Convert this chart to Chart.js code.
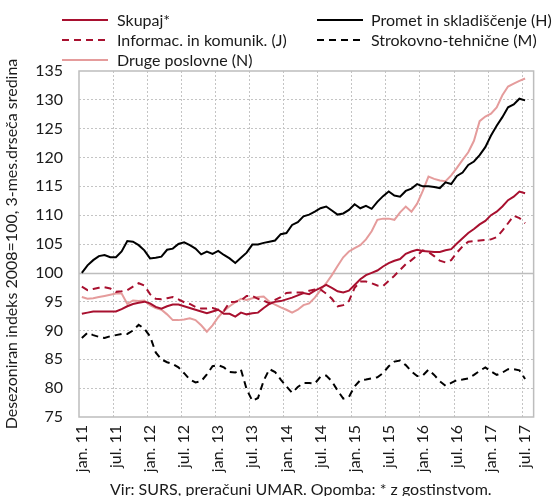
<!DOCTYPE html>
<html><head><meta charset="utf-8">
<script src="https://cdn.jsdelivr.net/npm/chart.js@4"></script>
<style>html,body{margin:0;padding:0;background:#fff}#wrap{position:relative;width:558px;height:496px}</style>
</head><body><div id="wrap"><canvas id="c" width="558" height="496"></canvas></div>
<script>
// ---- data (monthly, jan. 2011 – jul. 2017) ----
const monthNames = ['jan.','feb.','mar.','apr.','maj.','jun.','jul.','avg.','sep.','okt.','nov.','dec.'];
const startYear = 2011;
const monthCount = 80; // axis categories jan. 11 – avg. 17
const seriesNames = ['Skupaj*','Promet in skladiščenje (H)','Informac. in komunik. (J)','Strokovno-tehnične (M)','Druge poslovne (N)'];
const skupaj = [92.9,93.1,93.3,93.3,93.3,93.3,93.3,93.7,94.2,94.6,94.8,95.0,94.7,94.1,93.8,94.2,94.5,94.5,94.2,93.9,93.6,
 93.3,93.0,93.3,93.6,92.9,92.9,92.4,93.1,92.8,93.0,93.1,93.9,94.6,95.0,95.1,95.4,95.7,96.1,96.5,96.3,
 96.9,97.4,97.9,97.4,96.8,96.6,96.9,97.9,98.9,99.6,100.0,100.4,101.1,101.7,102.1,102.4,103.3,103.7,104.0,103.8,
 103.7,103.6,103.6,103.9,104.1,105.1,106.0,106.9,107.6,108.4,109.0,110.0,110.6,111.5,112.6,113.2,114.1,113.8];
const promet = [100.0,101.3,102.2,102.9,103.1,102.7,102.7,103.7,105.5,105.4,104.8,103.9,102.5,102.6,102.8,104.0,104.2,105.0,105.3,104.8,104.2,
 103.2,103.7,103.3,103.8,103.1,102.5,101.7,102.6,103.5,104.9,104.9,105.2,105.4,105.6,106.7,106.9,108.3,108.8,109.8,110.1,
 110.6,111.2,111.5,110.8,110.1,110.3,110.9,111.9,111.2,111.6,111.1,112.3,113.3,114.1,113.4,113.2,114.2,114.6,115.4,115.0,
 115.0,114.9,114.7,115.7,115.4,116.8,117.4,118.7,119.3,120.4,121.8,123.8,125.5,127.0,128.7,129.2,130.2,129.9];
const informac = [97.6,97.0,97.2,97.4,97.5,97.3,96.7,96.8,97.0,97.6,98.2,97.8,96.3,95.5,95.4,95.6,95.8,95.4,94.9,94.6,94.1,
 93.8,93.8,93.9,93.6,93.4,94.9,95.0,95.2,96.0,96.0,95.5,95.2,94.7,95.3,95.8,96.5,96.6,96.6,96.6,96.9,
 97.1,97.1,96.4,95.5,94.2,94.4,95.1,97.4,98.5,98.5,98.2,97.8,97.7,98.6,99.5,100.5,101.5,102.2,103.0,103.9,
 103.6,102.9,102.1,101.8,102.2,103.5,104.6,105.4,105.5,105.6,105.7,105.8,106.2,107.3,108.6,109.9,109.5,108.6];
const strokovno = [88.7,89.6,89.2,88.9,88.7,89.0,89.2,89.4,89.4,90.0,91.0,90.3,89.0,86.2,85.0,84.5,84.2,83.6,82.6,81.5,81.0,
 81.2,82.4,83.8,84.0,83.6,82.8,82.7,83.2,79.8,77.8,78.3,81.3,83.3,82.8,81.5,80.3,79.2,80.2,80.9,80.9,
 80.8,82.0,82.2,81.2,79.6,78.2,78.5,80.3,81.4,81.5,81.7,81.9,82.6,83.8,84.6,84.8,84.0,82.9,82.1,82.2,
 83.2,82.3,81.2,80.4,80.9,81.4,81.5,81.7,82.3,83.0,83.6,82.9,82.3,82.7,83.3,83.3,83.1,81.6];
const druge = [95.8,95.5,95.6,95.8,96.0,96.2,96.4,96.4,94.6,95.2,95.1,95.2,94.4,93.9,93.6,92.8,91.8,91.8,91.9,92.1,91.8,
 90.9,89.8,90.9,92.3,93.4,94.2,94.9,95.5,95.3,95.6,95.8,95.9,95.0,94.5,94.0,93.6,93.1,93.6,94.4,94.7,
 95.7,97.0,98.2,99.6,101.2,102.7,103.7,104.3,104.8,105.8,107.2,109.2,109.4,109.4,109.2,110.5,111.5,110.6,112.0,114.2,
 116.7,116.3,116.0,115.9,116.9,118.2,119.6,120.9,122.9,126.3,127.1,127.6,128.7,130.8,132.3,132.8,133.3,133.7];
const yTitle = 'Desezoniran indeks 2008=100, 3-mes.drseča sredina';
const footer = 'Vir: SURS, preračuni UMAR. Opomba: * z gostinstvom.';

// ---- build ----
const labels = [];
for (let i = 0; i < monthCount; i++) {
  labels.push(monthNames[i % 12] + ' ' + String((startYear + Math.floor(i / 12)) % 100).padStart(2, '0'));
}
const RED = '#A8102F', PINK = '#E59C9C', BLACK = '#000000', TXT = '#1a1a1a', GRID = '#c4c4c4', BOX = '#bdbdbd';
const FONT = 'Lato';

const boxPlugin = {
  id: 'boxPlugin',
  beforeDatasetsDraw(chart) {
    const {ctx, chartArea: a, scales: {y}} = chart;
    ctx.save();
    ctx.strokeStyle = BOX; ctx.lineWidth = 1.5; ctx.setLineDash([]);
    const y100 = Math.round(y.getPixelForValue(100)) + 0.5;
    ctx.beginPath(); ctx.moveTo(a.left, y100); ctx.lineTo(a.right, y100); ctx.stroke();
    ctx.strokeRect(a.left, a.top, a.right - a.left, a.bottom - a.top);
    ctx.restore();
  },
  afterDraw(chart) {
    const ctx = chart.ctx;
    ctx.save();
    ctx.font = '16px ' + FONT;
    ctx.textBaseline = 'middle';
    ctx.fillStyle = TXT;
    const pos = [[62,117,20],[317,371,20],[62,117,40],[317,371,40],[62,117,60]];
    chart.data.datasets.forEach((ds, i) => {
      const [lx, tx, yy] = pos[i];
      ctx.strokeStyle = ds.borderColor; ctx.lineWidth = 2;
      ctx.setLineDash(ds.borderDash || []);
      ctx.beginPath(); ctx.moveTo(lx, yy); ctx.lineTo(lx + 46, yy); ctx.stroke();
      ctx.setLineDash([]);
      ctx.fillText(ds.label, tx, yy + 1);
    });
    ctx.textBaseline = 'alphabetic';
    ctx.fillText(footer, 110, 495);
    ctx.restore();
  }
};

const mk = (label, data, color, dash) => ({
  label, data, borderColor: color, backgroundColor: color, borderWidth: 2,
  borderDash: dash, pointRadius: 0, tension: 0, fill: false
});

new Chart(document.getElementById('c'), {
  type: 'line',
  data: {
    labels,
    datasets: [
      mk(seriesNames[0], skupaj, RED, []),
      mk(seriesNames[1], promet, BLACK, []),
      mk(seriesNames[2], informac, RED, [7,5]),
      mk(seriesNames[3], strokovno, BLACK, [7,5]),
      mk(seriesNames[4], druge, PINK, [])
    ]
  },
  options: {
    responsive: false, animation: false, devicePixelRatio: 1,
    layout: { padding: { top: 71, right: 3, left: 0, bottom: 0 } },
    plugins: { legend: { display: false }, tooltip: { enabled: false } },
    scales: {
      x: {
        type: 'category', offset: true,
        grid: { offset: true, drawTicks: false, lineWidth: 1,
          color: c => (c.index % 6 === 0 && c.index > 0 && c.index < monthCount) ? GRID : 'rgba(0,0,0,0)' },
        border: { display: false, dash: [2,2] },
        ticks: { autoSkip: false, minRotation: 90, maxRotation: 90, padding: 8, color: TXT,
          font: { family: FONT, size: 16 },
          callback: function(v, i) { return i % 6 === 0 ? labels[i] : ''; } },
        afterFit(s) { s.height = 79; }
      },
      y: {
        min: 75, max: 135,
        grid: { drawTicks: false, lineWidth: 1,
          color: c => (c.tick && (c.tick.value === 100 || c.tick.value === 75 || c.tick.value === 135)) ? 'rgba(0,0,0,0)' : GRID },
        border: { display: false, dash: [2,2] },
        ticks: { stepSize: 5, padding: 16, color: TXT, font: { family: FONT, size: 16 } },
        title: { display: true, text: yTitle, color: TXT, font: { family: FONT, size: 16 }, padding: { top: 2, bottom: 0 } },
        afterFit(s) { s.width = 79; }
      }
    }
  },
  plugins: [boxPlugin]
});
</script></body></html>
